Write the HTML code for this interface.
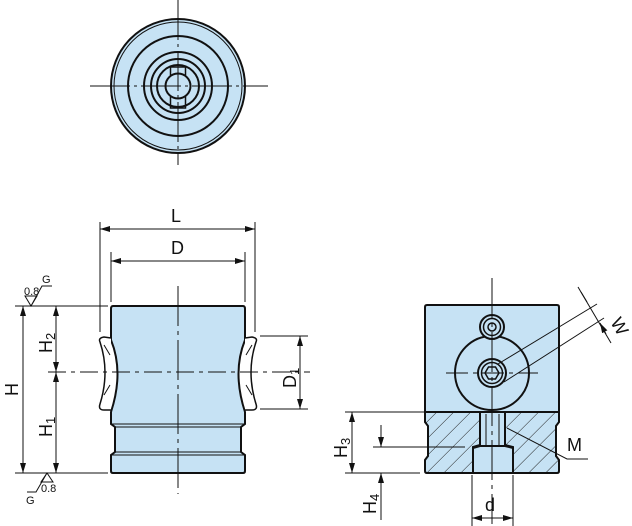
<!DOCTYPE html>
<html><head><meta charset="utf-8"><style>
html,body{margin:0;padding:0;background:#fff}
svg{display:block}
text{font-family:"Liberation Sans",sans-serif;fill:#111}
</style></head><body>
<svg width="632" height="526" viewBox="0 0 632 526" xmlns="http://www.w3.org/2000/svg">
<defs>
<marker id="a" viewBox="0 0 10 6" refX="10" refY="3" markerWidth="10" markerHeight="6" orient="auto-start-reverse" markerUnits="userSpaceOnUse"><path d="M0,0 L10,3 L0,6 z" fill="#111"/></marker>
<pattern id="h" patternUnits="userSpaceOnUse" width="12" height="12" patternTransform="rotate(45)"><rect width="12" height="12" fill="#c6e2f4"/><line x1="0" y1="0" x2="0" y2="12" stroke="#222" stroke-width="1"/></pattern>
</defs>
<g stroke="#111" fill="none" stroke-width="1">
<!-- TOP VIEW -->
<circle cx="178" cy="86" r="67" fill="#c6e2f4" stroke-width="2"/>
<circle cx="178" cy="86" r="64"/>
<circle cx="178" cy="86" r="50" stroke-width="2"/>
<circle cx="178" cy="86" r="34" stroke-width="2"/>
<circle cx="178" cy="86" r="27" stroke-width="2"/>
<circle cx="178" cy="86" r="21" stroke-width="2"/>
<rect x="170.5" y="67" width="15" height="41" stroke-width="1.5"/>
<circle cx="178" cy="86" r="12.5" fill="#c6e2f4" stroke-width="2"/>
<line x1="90" y1="86" x2="268" y2="86" stroke-dasharray="40 4 3 4"/>
<line x1="178" y1="0" x2="178" y2="165" stroke-dasharray="40 4 3 4"/>
<!-- SIDE VIEW body -->
<path d="M113,306 L243,306 Q245,306 245,309 L245,340 Q232,372 245,412 L245,424 L241,427 L241,452 L245,455 L245,471 Q245,473 243,473 L113,473 Q111,473 111,471 L111,455 L115,452 L115,427 L111,424 L111,412 Q124,372 111,340 L111,309 Q111,306 113,306 Z" fill="#c6e2f4" stroke-width="2"/>
<line x1="111" y1="424" x2="245" y2="424"/><line x1="115" y1="427" x2="241" y2="427"/>
<line x1="115" y1="452" x2="241" y2="452"/><line x1="111" y1="455" x2="245" y2="455"/>
<!-- balls -->
<path d="M111,338 L104,337 Q98,338 100,342 Q110,372 100,404 Q98,410 104,410 L111,410" fill="#fff" stroke-width="1.5"/>
<path d="M104,345 L110,355 M104,395 L110,385" />
<path d="M245,338 L252,337 Q258,338 256,342 Q246,372 256,404 Q258,410 252,410 L245,410" fill="#fff" stroke-width="1.5"/>
<path d="M252,345 L246,355 M252,395 L246,385"/>
<!-- center lines -->
<line x1="48" y1="372" x2="310" y2="372" stroke-dasharray="18 5 4 5"/>
<line x1="178" y1="286" x2="178" y2="494" stroke-dasharray="40 5 4 5"/>
<!-- L / D -->
<line x1="100" y1="222" x2="100" y2="332"/><line x1="255" y1="222" x2="255" y2="332"/>
<line x1="100" y1="229" x2="255" y2="229" marker-start="url(#a)" marker-end="url(#a)"/>
<line x1="111" y1="252" x2="111" y2="302"/><line x1="245" y1="252" x2="245" y2="302"/>
<line x1="111" y1="261" x2="245" y2="261" marker-start="url(#a)" marker-end="url(#a)"/>
<!-- H dims -->
<line x1="15" y1="306" x2="108" y2="306"/><line x1="15" y1="473" x2="108" y2="473"/>
<line x1="23" y1="306" x2="23" y2="473" marker-start="url(#a)" marker-end="url(#a)"/>
<line x1="56" y1="306" x2="56" y2="372" marker-start="url(#a)" marker-end="url(#a)"/>
<line x1="56" y1="372" x2="56" y2="473" marker-start="url(#a)" marker-end="url(#a)"/>
<!-- D1 -->
<line x1="260" y1="336" x2="308" y2="336"/><line x1="260" y1="409" x2="308" y2="409"/>
<line x1="300" y1="336" x2="300" y2="409" marker-start="url(#a)" marker-end="url(#a)"/>
<!-- surface symbols -->
<path d="M25,296 L37,296 L31,306 Z M31,306 L42,286 L52,286"/>
<path d="M41,482 L53,482 L47,473 Z M47,473 L36,492 L27,492"/>
<!-- RIGHT VIEW -->
<path d="M427,305 L557,305 Q559,305 559,307 L559,412 L425,412 L425,307 Q425,305 427,305 Z" fill="#c6e2f4" stroke-width="2"/>
<path d="M425,412 L559,412 L559,422 L556,426 L556,456 L559,460 L559,471 Q559,473 557,473 L513,473 L513,447 L505,445 L505,412 L480,412 L480,445 L473,447 L473,473 L427,473 Q425,473 425,471 L425,460 L428,456 L428,426 L425,422 Z" fill="url(#h)" stroke-width="2"/>
<rect x="480" y="412" width="25" height="35" fill="#c6e2f4" stroke-width="2"/>
<line x1="486" y1="414" x2="486" y2="445"/><line x1="499" y1="414" x2="499" y2="445"/>
<path d="M473,473 L473,448 L480,446 L505,446 L513,448 L513,473" fill="#c6e2f4" stroke-width="2"/>
<line x1="473" y1="473" x2="513" y2="473" stroke-width="2"/>
<circle cx="492" cy="373" r="37" fill="#c6e2f4" stroke-width="2"/>
<circle cx="492" cy="327" r="12" fill="#c6e2f4" stroke-width="2"/>
<circle cx="492" cy="327" r="8.5" stroke-width="1.5"/>
<circle cx="492" cy="327" r="4" stroke-width="1.5"/>
<circle cx="492" cy="373" r="14" stroke-width="2"/>
<circle cx="492" cy="373" r="10.5" stroke-width="1.5"/>
<path d="M499,373 L495.5,379 L488.5,379 L485,373 L488.5,367 L495.5,367 Z" stroke-width="1.5"/>
<line x1="446" y1="373" x2="538" y2="373" stroke-dasharray="22 5 4 5"/>
<line x1="492" y1="278" x2="492" y2="524" stroke-dasharray="40 5 4 5"/>
<!-- W -->
<line x1="498" y1="364" x2="597" y2="304"/>
<line x1="504" y1="382" x2="604" y2="318"/>
<line x1="578" y1="287" x2="611" y2="343"/>
<line x1="583" y1="296" x2="597" y2="304" stroke="none"/>
<path d="M581,292 L587,302 M606,334 L600,323" marker-end="url(#a)"/>
<!-- H3 H4 -->
<line x1="345" y1="412" x2="425" y2="412"/><line x1="345" y1="473" x2="420" y2="473"/>
<line x1="352" y1="412" x2="352" y2="473" marker-start="url(#a)" marker-end="url(#a)"/>
<line x1="373" y1="447" x2="465" y2="447"/>
<line x1="381" y1="425" x2="381" y2="447" marker-end="url(#a)"/>
<line x1="381" y1="520" x2="381" y2="473" marker-end="url(#a)"/>
<!-- d -->
<line x1="472" y1="475" x2="472" y2="526"/><line x1="513" y1="475" x2="513" y2="526"/>
<line x1="472" y1="518" x2="513" y2="518" marker-start="url(#a)" marker-end="url(#a)"/>
<!-- M -->
<path d="M507,428 L567,459 L588,459"/>
</g>
<g font-size="18">
<text x="171" y="222">L</text>
<text x="171" y="254">D</text>
<text x="567" y="451">M</text>
<text x="485" y="511">d</text>
<text transform="translate(18,396) rotate(-90)">H</text>
<text transform="translate(52,353) rotate(-90)">H<tspan font-size="13" dy="3">2</tspan></text>
<text transform="translate(52,437) rotate(-90)">H<tspan font-size="13" dy="3">1</tspan></text>
<text transform="translate(296,388) rotate(-90)">D<tspan font-size="13" dy="3">1</tspan></text>
<text transform="translate(347,458) rotate(-90)">H<tspan font-size="13" dy="3">3</tspan></text>
<text transform="translate(376,514) rotate(-90)">H<tspan font-size="13" dy="3">4</tspan></text>
<text transform="translate(610,322) rotate(60)">W</text>
</g>
<g font-size="11">
<text x="24" y="295">0.8</text><text x="42" y="283">G</text>
<text x="41" y="492">0.8</text><text x="26" y="504">G</text>
</g>
</svg>
</body></html>
